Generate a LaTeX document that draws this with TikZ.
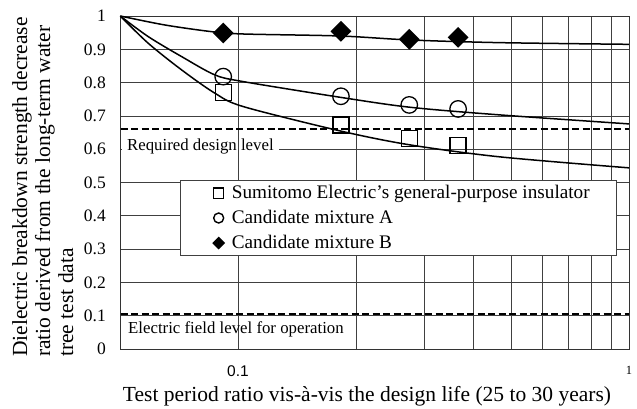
\documentclass[tikz,border=0pt]{standalone}
\usepackage{fontspec}
\setmainfont{Liberation Serif}
\newfontfamily\ticksans{Liberation Sans}
\usetikzlibrary{shapes.geometric}

\tikzset{
  grid line/.style={black!75, line width=0.7pt},
  level line/.style={line width=1.8pt, dash pattern=on 7pt off 3.5pt},
  fit curve/.style={line width=1.5pt},
  sq mark/.style={draw, rectangle, line width=1.3pt, minimum size=16pt, inner sep=0pt},
  ci mark/.style={draw, circle, line width=1.3pt, minimum size=16.5pt, inner sep=0pt},
  di mark/.style={fill, diamond, minimum size=21pt, inner sep=0pt},
  tick label/.style={font=\fontsize{17.5}{17.5}\selectfont, inner sep=0pt},
  small label/.style={font=\fontsize{16.8}{18}\selectfont},
}

\begin{document}
\begin{tikzpicture}[x=391pt, y=333pt]
  \useasboundingbox (-1.6087,-0.1772) rectangle (0.0205,1.0481);
  % horizontal grid
  \foreach \v in {0.1,0.2,0.3,0.4,0.5,0.6,0.7,0.8,0.9}
    \draw [grid line] ({log10(0.05)},\v) -- (0,\v);
  \node [small label, anchor=base west, fill=white, inner xsep=5pt, inner ysep=1pt] (reqlabel)
    at (-1.2967,0.5976) {Required design level};
  % vertical grid
  \foreach \k in {1,...,9}
    \draw [grid line] ({log10(\k/10)},0) -- ({log10(\k/10)},1);
  \draw [black!80, line width=0.8pt] ({log10(0.05)},0) rectangle (0,1);

  % ticks
  \foreach \v [count=\i] in {0,0.1,0.2,0.3,0.4,0.5,0.6,0.7,0.8,0.9,1}
    \node [tick label, anchor=east] (ytick\i) at (-1.3376,\v) {\v};
  \node [font=\ticksans\fontsize{15.5}{15.5}\selectfont, inner sep=0pt] (xtick1) at (-1,-0.068) {0.1};
  \node [font=\fontsize{12.5}{12.5}\selectfont, inner sep=0pt] (xtick2) at (0,-0.065) {1};

  % levels
  \draw [level line] ({log10(0.05)},0.66) -- (0,0.66);
  \draw [level line] ({log10(0.05)},0.104) -- (0,0.104);
  \node [small label, anchor=base west, inner sep=0pt] (oplabel) at (-1.2813,0.047)
    {Electric field level for operation};

  % fitted curves
  \draw [fit curve] plot [smooth] coordinates {(-1.3010,1) (-1.1867,0.973) (-1.0673,0.953)
    (-0.9864,0.946) (-0.7391,0.940) (-0.5601,0.928) (-0.33,0.920) (0,0.915)};
  \draw [fit curve] plot [smooth] coordinates {(-1.3010,1) (-1.2294,0.938) (-1.144,0.878)
    (-1.0588,0.823) (-0.9864,0.803) (-0.7391,0.756) (-0.5601,0.726) (-0.33,0.703) (0,0.676)};
  \draw [fit curve] plot [smooth] coordinates {(-1.3010,1) (-1.2294,0.918) (-1.144,0.838)
    (-1.0588,0.768) (-0.9864,0.728) (-0.7391,0.655) (-0.5601,0.613) (-0.33,0.577) (0,0.544)};

  % measured points
  \foreach \x/\v [count=\i] in {1/0.770,2/0.673,3/0.632,4/0.612}
    \node [sq mark] (sq\i) at ({log10(0.0914*\x)},\v) {};
  \foreach \x/\v [count=\i] in {1/0.818,2/0.759,3/0.733,4/0.721}
    \node [ci mark] (ci\i) at ({log10(0.0914*\x)},\v) {};
  \foreach \x/\v [count=\i] in {1/0.949,2/0.954,3/0.930,4/0.936}
    \node [di mark] (di\i) at ({log10(0.0914*\x)},\v) {};

  % legend
  \draw [black!75, fill=white, line width=0.8pt] (-1.1483,0.2823) rectangle (-0.0333,0.5054);
  \node [draw, rectangle, line width=1.1pt, minimum size=10.5pt, inner sep=0pt] (keysq) at (-1.0494,0.4676) {};
  \node [draw, circle, line width=1.4pt, minimum size=10pt, inner sep=0pt] (keyci) at (-1.0494,0.3934) {};
  \node [fill, diamond, minimum size=13pt, inner sep=0pt] (keydi) at (-1.0494,0.3183) {};
  \begin{scope}[every node/.style={anchor=base west, inner sep=0pt, font=\fontsize{19.2}{20}\selectfont}]
    \node (keysqtext) at (-1.0161,0.4505) {Sumitomo Electric’s general-purpose insulator};
    \node (keycitext) at (-1.0161,0.3775) {Candidate mixture A};
    \node (keyditext) at (-1.0161,0.3024) {Candidate mixture B};
  \end{scope}

  % axis titles
  \node [anchor=base, font=\fontsize{21.5}{23}\selectfont, inner sep=0pt] (xtitle) at (-0.670,-0.158)
    {Test period ratio vis-à-vis the design life (25 to 30 years)};
  \node [rotate=90, anchor=north west, align=left, inner sep=0pt, font=\fontsize{21.5}{23}\selectfont] (ytitle)
    at (-1.578,-0.024) {Dielectric breakdown strength decrease\\ratio derived from the long-term water\\tree test data};
\end{tikzpicture}
\end{document}
